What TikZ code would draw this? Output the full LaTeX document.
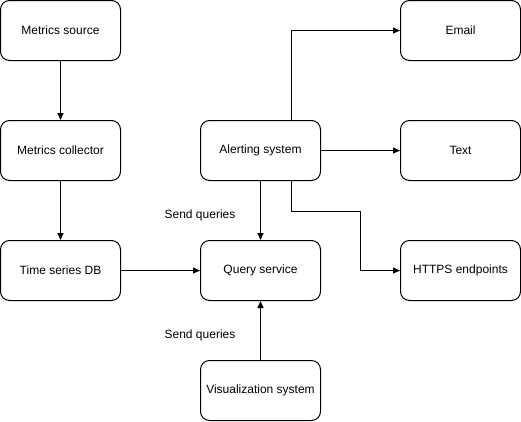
\documentclass[tikz,border=0pt]{standalone}
\usepackage{fontspec}
\setmainfont{Liberation Sans}
\usetikzlibrary{arrows.meta}
\begin{document}
\begin{tikzpicture}[x=1pt,y=-1pt,
  box/.style={draw,line width=1pt,rounded corners=9pt,minimum width=120pt,minimum height=60pt,inner sep=0pt,font=\fontsize{12}{14}\selectfont},
  conn/.style={draw,line width=1pt,-{Triangle[length=7pt,width=6pt]}},
  lbl/.style={font=\fontsize{12}{14}\selectfont,inner sep=0pt}]
\useasboundingbox (0,0) rectangle (521,421);
\node[box] (src) at (60.5,30.5) {Metrics source};
\node[box] (col) at (60.5,150.5) {Metrics collector};
\node[box] (tsdb) at (60.5,270.5) {Time series DB};
\node[box] (alert) at (260.5,150.5) {Alerting system};
\node[box] (query) at (260.5,270.5) {Query service};
\node[box] (vis) at (260.5,390.5) {Visualization system};
\node[box] (email) at (460.5,30.5) {Email};
\node[box] (text) at (460.5,150.5) {Text};
\node[box] (https) at (460.5,270.5) {HTTPS endpoints};
\draw[conn] (src) -- (col);
\draw[conn] (col) -- (tsdb);
\draw[conn] (tsdb) -- (query);
\draw[conn] (alert) -- (query);
\draw[conn] (vis) -- (query);
\draw[conn] (alert) -- (text);
\draw[conn] (alert.north east) ++(-30,0) |- (email.west);
\draw[conn] (alert.south east) ++(-30,0) -- ++(0,30) -| (360.5,270.5) -- (https.west);
\node[lbl] (sq1) at (200,215) {Send queries};
\node[lbl] (sq2) at (200,335) {Send queries};
\end{tikzpicture}
\end{document}
